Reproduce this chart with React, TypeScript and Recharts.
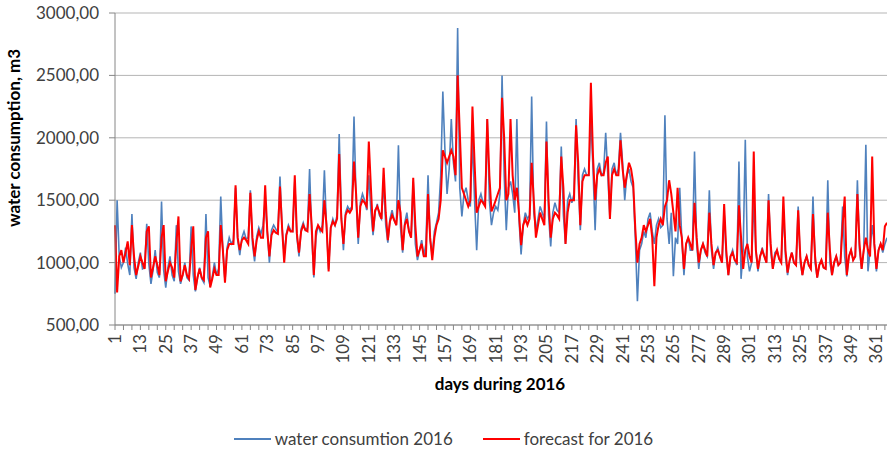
import { LineChart, Line, XAxis, YAxis, CartesianGrid, Label } from 'recharts'

// daily water consumption 2016, m3 (one row = one week)
const consumption = [
  750, 1500, 1050, 960, 1000, 1120, 990,
  900, 1390, 960, 870, 1000, 1080, 950,
  960, 1310, 990, 830, 940, 1100, 920,
  880, 1490, 940, 800, 960, 1050, 900,
  850, 1300, 930, 830, 900, 1000, 880,
  860, 1290, 900, 770, 880, 960, 870,
  840, 1390, 880, 810, 890, 1000, 900,
  950, 1530, 1100, 850, 1120, 1200, 1150,
  1180, 1600, 1180, 1060, 1200, 1250, 1190,
  1200, 1580, 1150, 1010, 1210, 1280, 1230,
  1300, 1500, 1250, 1000, 1260, 1300, 1270,
  1240, 1690, 1280, 1060, 1230, 1300, 1260,
  1250, 1650, 1200, 1050, 1270, 1320, 1260,
  1280, 1750, 1230, 880, 1200, 1300, 1250,
  1300, 1740, 1290, 950, 1280, 1350, 1300,
  1380, 2030, 1380, 1100, 1400, 1450, 1420,
  1450, 2170, 1500, 1150, 1480, 1550, 1500,
  1420, 1700, 1410, 1220, 1400, 1470, 1380,
  1350, 1650, 1300, 1160, 1350, 1420, 1340,
  1300, 1940, 1280, 1080, 1320, 1400, 1250,
  1200, 1650, 1150, 1020, 1100, 1180, 1050,
  1150, 1700, 1180, 1060, 1250, 1320, 1400,
  1700, 2370, 1900, 1550, 1750, 2150, 1800,
  1650, 2880, 1600, 1370, 1550, 1600, 1500,
  1450, 2000, 1500, 1100, 1500, 1550, 1480,
  1500, 2150, 1500, 1300, 1400, 1450, 1420,
  1550, 2500, 1700, 1260, 1600, 1650, 1550,
  1400, 2150, 1350, 1065, 1300, 1400, 1350,
  1380, 2330, 1400, 1260, 1350, 1450, 1400,
  1350, 2130, 1380, 1130, 1400, 1480, 1420,
  1400, 1930, 1380, 1150, 1500, 1550, 1480,
  1550, 2150, 1650, 1260, 1700, 1750, 1700,
  1700, 2160, 1750, 1260, 1750, 1800, 1700,
  1720, 2040, 1700, 1350, 1750, 1800, 1700,
  1750, 2040, 1800, 1500, 1700, 1750, 1650,
  1600, 1200, 690, 1100, 1150, 1250, 1200,
  1350, 1400, 1250, 1150, 1300, 1350, 1280,
  1300, 2180, 1350, 1150, 1400, 890, 1200,
  1150, 1600, 1180, 900, 1150, 1200, 1100,
  1100, 1890, 1150, 950, 1100, 1150, 1080,
  1050, 1580, 1100, 950, 1080, 1120, 1050,
  1000, 1400, 1050, 900, 1050, 1100, 1020,
  980, 1810, 870, 1100, 1985, 1050, 930,
  1000, 1500, 1100, 930, 1050, 1120, 1050,
  1000, 1550, 1100, 950, 1080, 1100, 1030,
  1000, 1430, 1050, 900, 1020, 1080, 1000,
  980, 1450, 1000, 900, 1000, 1050, 980,
  950, 1530, 1000, 880, 980, 1020, 960,
  950, 1660, 1000, 900, 1000, 1050, 980,
  1000, 1450, 1050, 890, 1050, 1100, 1020,
  1050, 1660, 1100, 950, 1100, 1945, 930,
  1100, 1300, 1150, 930, 1100, 1150, 1080,
  1150, 1200,
]

const forecast = [
  1300, 760, 1050, 1100, 1000, 1080, 1170,
  980, 1300, 1050, 900, 970, 1050, 1000,
  950, 1250, 1290, 880, 960, 1050, 980,
  900, 1200, 1300, 850, 930, 1000, 960,
  880, 1150, 1370, 850, 900, 980, 900,
  870, 1100, 1290, 780, 880, 950, 880,
  860, 1200, 1250, 800, 870, 950, 900,
  900, 1300, 1100, 840, 1100, 1150, 1150,
  1150, 1620, 1200, 1100, 1180, 1200, 1180,
  1150, 1560, 1200, 1050, 1180, 1250, 1200,
  1200, 1620, 1250, 1050, 1220, 1260, 1240,
  1230, 1610, 1280, 1000, 1220, 1280, 1250,
  1250, 1700, 1230, 1080, 1250, 1300, 1260,
  1250, 1550, 1300, 900, 1250, 1300, 1270,
  1250, 1500, 1300, 930, 1280, 1330, 1300,
  1350, 1870, 1350, 1150, 1380, 1420, 1400,
  1430, 1810, 1550, 1200, 1450, 1500, 1480,
  1450, 1970, 1600, 1250, 1420, 1450, 1400,
  1350, 1760, 1400, 1180, 1330, 1380, 1340,
  1300, 1500, 1400, 1100, 1300, 1350, 1250,
  1200, 1680, 1300, 1050, 1100, 1150, 1050,
  1050, 1550, 1200, 1020, 1200, 1300, 1350,
  1500, 1900, 1850, 1800, 1850, 1900, 1850,
  1700, 2500, 2050, 1600, 1550, 1500, 1450,
  1500, 2250, 1800, 1400, 1450, 1500, 1480,
  1450, 2150, 1700, 1410, 1450, 1500, 1550,
  1600, 2320, 2000, 1500, 1550, 2150, 1700,
  1500, 1600, 1400, 1140, 1300, 1350, 1300,
  1350, 1800, 1500, 1200, 1300, 1400, 1350,
  1300, 1970, 1500, 1200, 1350, 1400, 1380,
  1350, 1850, 1600, 1150, 1400, 1500, 1500,
  1500, 2100, 1800, 1300, 1650, 1700, 1700,
  1700, 2440, 1850, 1500, 1700, 1750, 1700,
  1700, 1800, 1850, 1350, 1700, 1750, 1700,
  1700, 1980, 1750, 1600, 1700, 1800, 1750,
  1640, 1270, 1000, 1150, 1200, 1300, 1250,
  1300, 1350, 1200, 810, 1200, 1300, 1350,
  1300, 1450, 1500, 1660, 1550, 1400, 1250,
  1600, 1300, 1200, 950, 1150, 1200, 1150,
  1100, 1480, 1200, 1000, 1100, 1150, 1100,
  1050, 1400, 1150, 980, 1080, 1100, 1050,
  1000, 1470, 1100, 900, 1050, 1080, 1020,
  1000, 1460, 1200, 950, 1100, 1150, 1050,
  1000, 1890, 1100, 950, 1050, 1100, 1050,
  1000, 1500, 1150, 950, 1050, 1100, 1030,
  1000, 1530, 1100, 920, 1020, 1080, 1000,
  980, 1420, 1050, 900, 1000, 1050, 980,
  950, 1390, 1050, 880, 980, 1020, 960,
  950, 1400, 1100, 900, 1000, 1050, 980,
  1000, 1300, 1530, 900, 1050, 1100, 1020,
  1050, 1550, 1150, 950, 1100, 1200, 1100,
  1050, 1850, 1150, 950, 1100, 1150, 1100,
  1290, 1320,
]

const labeledDays = [
  1, 13, 25, 37, 49, 61, 73, 85, 97, 109, 121, 133, 145, 157, 169, 181,
  193, 205, 217, 229, 241, 253, 265, 277, 289, 301, 313, 325, 337, 349, 361,
]
const yTicks = [500, 1000, 1500, 2000, 2500, 3000]

const data = consumption.map((v, i) => ({
  day: i + 1,
  actual: v,
  forecast: forecast[i],
}))

const FONT = 'Lato, "Open Sans", sans-serif'
const BLUE = '#4f81bd'
const RED = '#ff0000'

const fmt = (v: number) => v.toFixed(2).replace('.', ',')

function DayTick({ x, y, payload }: any) {
  if (!labeledDays.includes(payload.value)) return <g />
  return (
    <text
      x={x}
      y={y + 2}
      dy="0.35em"
      transform={`rotate(-90 ${x} ${y + 2})`}
      textAnchor="end"
      fill="#404040"
      fontSize={17}
      fontFamily={FONT}
    >
      {payload.value}
    </text>
  )
}

function LegendBox() {
  const item = (color: string, text: string) => (
    <div style={{ display: 'flex', alignItems: 'center' }}>
      <div style={{ width: 37, height: 2, background: color, marginRight: 4 }} />
      <span>{text}</span>
    </div>
  )
  return (
    <div
      style={{
        position: 'absolute',
        left: 0,
        top: 428,
        width: 887,
        display: 'flex',
        justifyContent: 'center',
        gap: 30,
        fontFamily: FONT,
        fontSize: 17,
        color: '#404040',
      }}
    >
      {item(BLUE, 'water consumtion 2016')}
      {item(RED, 'forecast for 2016')}
    </div>
  )
}

export default function App() {
  return (
    <div style={{ position: 'absolute', left: 0, top: 0, width: 887, height: 455, background: '#fff' }}>
      <LineChart
        width={887}
        height={455}
        data={data}
        margin={{ top: 13, right: 0, bottom: 70, left: 0 }}
      >
        <CartesianGrid vertical={false} stroke="#b5b5b5" />
        <XAxis
          dataKey="day"
          interval={3}
          height={60}
          tick={<DayTick />}
          tickSize={5}
          axisLine={{ stroke: '#868686' }}
          tickLine={{ stroke: '#868686' }}
        >
          <Label
            content={() => (
              <text x={500} y={386} textAnchor="middle" dominantBaseline="middle" fontFamily={FONT} fontSize={17} fontWeight="bold" fill="#000">
                days during 2016
              </text>
            )}
          />
        </XAxis>
        <YAxis
          width={115}
          domain={[500, 3000]}
          ticks={yTicks}
          tickFormatter={fmt}
          tickSize={6}
          tickMargin={10}
          tick={{ fill: '#404040', fontSize: 17, fontFamily: FONT }}
          axisLine={{ stroke: '#868686' }}
          tickLine={{ stroke: '#868686' }}
        >
          <Label
            content={() => (
              <text
                x={16}
                y={138}
                transform="rotate(-90 16 138)"
                textAnchor="middle"
                dominantBaseline="middle"
                fontFamily={FONT}
                fontSize={17}
                fontWeight="bold"
                fill="#000"
              >
                water consumption, m3
              </text>
            )}
          />
        </YAxis>
        <Line
          dataKey="actual"
          name="water consumtion 2016"
          stroke={BLUE}
          strokeWidth={1.6}
          dot={false}
          isAnimationActive={false}
        />
        <Line
          dataKey="forecast"
          name="forecast for 2016"
          stroke={RED}
          strokeWidth={2}
          dot={false}
          isAnimationActive={false}
        />
      </LineChart>
      <LegendBox />
    </div>
  )
}
